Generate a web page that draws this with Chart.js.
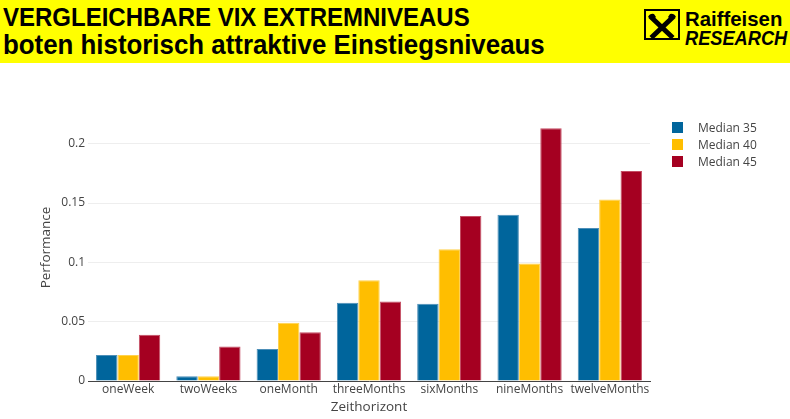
<!DOCTYPE html>
<html>
<head>
<meta charset="utf-8">
<script src="https://cdn.jsdelivr.net/npm/chart.js@4/dist/chart.umd.min.js"></script>
<style>
  html, body { margin: 0; padding: 0; background: #fff; }
  body { width: 790px; height: 419px; position: relative; overflow: hidden; font-family: "Open Sans", sans-serif; }
  #head { position: absolute; left: 0; top: 0; width: 790px; height: 63px; background: #ffff00; }
  .t { position: absolute; left: 3px; font-family: "Liberation Sans", Arial, sans-serif; font-weight: bold; color: #000; white-space: nowrap; transform-origin: 0 0; }
  #t1 { top: 2px; font-size: 26px; }
  #t2 { top: 30px; font-size: 27px; }
  #logo { position: absolute; left: 644px; top: 9px; }
  .lt { position: absolute; font-family: "Liberation Sans", Arial, sans-serif; font-weight: bold; color: #000; white-space: nowrap; transform-origin: 0 0; }
  #l1 { left: 685px; top: 7px; font-size: 21px; }
  #l2 { left: 685px; top: 27px; font-size: 20px; font-style: italic; }
  #chart { position: absolute; left: 0; top: 0; }
  #legend { position: absolute; left: 672px; top: 119px; font-size: 12px; color: #444; }
  #legend div { height: 17px; line-height: 17px; position: relative; padding-left: 26px; }
  #legend span { position: absolute; left: 0; top: 3px; width: 11px; height: 11px; }
</style>
</head>
<body>
<canvas id="chart" width="790" height="419"></canvas>
<div id="head">
  <div class="t" id="t1" data-w="467">VERGLEICHBARE VIX EXTREMNIVEAUS</div>
  <div class="t" id="t2" data-w="542">boten historisch attraktive Einstiegsniveaus</div>
  <svg id="logo" width="36" height="31" viewBox="0 0 36 31">
    <rect x="1" y="1" width="34" height="29" fill="#ffff00" stroke="#000" stroke-width="2"/>
    <path d="M8 9 L27 27 M28 9 L9 27" stroke="#000" stroke-width="5" stroke-linecap="square"/>
    <path d="M4 8 Q6 4 10 5 L12 8 L9 11 Z M32 8 Q30 4 26 5 L24 8 L27 11 Z" fill="#000"/>
  </svg>
  <div class="lt" id="l1" data-w="97">Raiffeisen</div>
  <div class="lt" id="l2" data-w="102">RESEARCH</div>
</div>
<div id="legend"></div>
<script>
// Werte
const categories = ['oneWeek', 'twoWeeks', 'oneMonth', 'threeMonths', 'sixMonths', 'nineMonths', 'twelveMonths'];
const median35 = [0.022, 0.004, 0.027, 0.066, 0.065, 0.140, 0.129];
const median40 = [0.022, 0.004, 0.049, 0.085, 0.111, 0.099, 0.153];
const median45 = [0.039, 0.029, 0.041, 0.067, 0.139, 0.213, 0.177];
const seriesNames = ['Median 35', 'Median 40', 'Median 45'];
const seriesColors = ['#00659c', '#ffbe00', '#a50021'];
const seriesBorders = ['#4d8fb8', '#ffd24d', '#c44d63'];
const yTicks = [0, 0.05, 0.1, 0.15, 0.2];

// Überschriften auf Breite bringen
document.querySelectorAll('[data-w]').forEach(el => {
  const s = +el.dataset.w / el.offsetWidth;
  el.style.transform = `scaleX(${s})`;
});

// Legende
const leg = document.getElementById('legend');
seriesNames.forEach((n, i) => {
  const d = document.createElement('div');
  d.innerHTML = `<span style="background:${seriesColors[i]}"></span>${n}`;
  leg.appendChild(d);
});

const values = [median35, median40, median45];
const datasets = seriesNames.map((n, i) => ({
  label: n, data: values[i],
  backgroundColor: seriesColors[i], borderColor: seriesBorders[i], borderWidth: 1,
  categoryPercentage: 0.8, barPercentage: 1.0
}));

const tickFont = { family: '"Open Sans", sans-serif', size: 12 };
const titleFont = { family: '"Open Sans", sans-serif', size: 13.5 };

new Chart(document.getElementById('chart'), {
  type: 'bar',
  data: { labels: categories, datasets },
  options: {
    responsive: false, animation: false,
    layout: { padding: { left: 35, right: 140, top: 114, bottom: 0 } },
    plugins: { legend: { display: false }, tooltip: { enabled: false } },
    scales: {
      x: {
        grid: { display: false, drawTicks: false },
        border: { display: true, color: '#444', width: 1 },
        ticks: { color: '#444', font: tickFont, padding: 1, maxRotation: 0, autoSkip: false },
        title: { display: true, text: 'Zeithorizont', color: '#444', font: titleFont, padding: { top: 0 } },
        afterFit: (s) => { s.height = 38; }
      },
      y: {
        min: 0, max: 0.225,
        afterBuildTicks: (s) => { s.ticks = yTicks.map(v => ({ value: v })); },
        grid: { color: '#eeeeee', drawTicks: false },
        border: { display: false },
        ticks: { color: '#444', font: tickFont, padding: 3, callback: v => String(v) },
        title: { display: true, text: 'Performance', color: '#444', font: titleFont, padding: { top: 3, bottom: 0 } },
        afterFit: (s) => { s.width = 53; }
      }
    }
  }
});
</script>
</body>
</html>
